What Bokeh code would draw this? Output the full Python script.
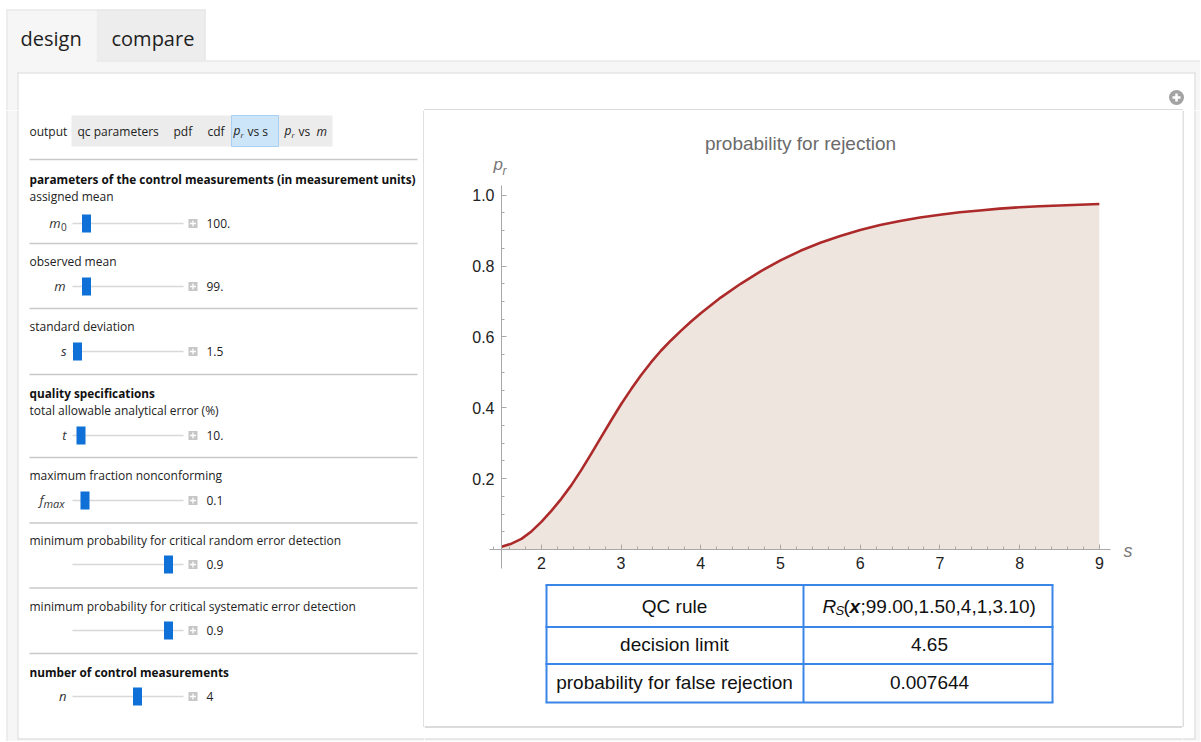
from bokeh.plotting import figure
from bokeh.models import Range1d, FixedTicker, Label, NumeralTickFormatter
from bokeh.layouts import row, column
from bokeh.embed import file_html
from bokeh.resources import INLINE
from bokeh.core.properties import value

# ---------------- data ----------------
s_values = [1.5, 1.625, 1.75, 1.875, 2.0, 2.125, 2.25, 2.375, 2.5, 2.625, 2.75, 2.875,
            3.0, 3.125, 3.25, 3.375, 3.5, 3.625, 3.75, 3.875, 4.0, 4.25, 4.5, 4.75,
            5.0, 5.25, 5.5, 5.75, 6.0, 6.25, 6.5, 6.75, 7.0, 7.25, 7.5, 7.75, 8.0, 8.25,
            8.5, 8.75, 9.0]
pr_values = [0.0076, 0.0165, 0.030, 0.051, 0.078, 0.109, 0.143, 0.181, 0.224, 0.270,
             0.317, 0.364, 0.410, 0.452, 0.492, 0.528, 0.561, 0.590, 0.617, 0.643, 0.667,
             0.711, 0.750, 0.785, 0.816, 0.843, 0.866, 0.885, 0.902, 0.916, 0.927, 0.937,
             0.945, 0.952, 0.957, 0.962, 0.966, 0.969, 0.971, 0.973, 0.975]
x_ticks = [2, 3, 4, 5, 6, 7, 8, 9]
y_ticks = [0.2, 0.4, 0.6, 0.8, 1.0]
chart_title = "probability for rejection"

table_labels = ["QC rule", "decision limit", "probability for false rejection"]
table_values = ["", "4.65", "0.007644"]
rule_args = ";99.00,1.50,4,1,3.10)"

tab_names = ["design", "compare"]
output_options = ["qc parameters", "pdf", "cdf"]
section_titles = ["parameters of the control measurements (in measurement units)",
                  "quality specifications", "number of control measurements"]
control_captions = ["assigned mean", "observed mean", "standard deviation",
                    "total allowable analytical error (%)", "maximum fraction nonconforming",
                    "minimum probability for critical random  error detection",
                    "minimum probability for critical systematic error detection"]
control_values = ["100.", "99.", "1.5", "10.", "0.1", "0.9", "0.9", "4"]

FONT_UI = "Open Sans"
FONT_CH = "Liberation Sans"


def no_align(f):
    if "frame_align" in f.properties():
        f.frame_align = False
    return f


def pixfig(x0, x1, y0, y1):
    f = figure(width=x1 - x0, height=y1 - y0, x_range=Range1d(x0, x1), y_range=Range1d(y1, y0),
               output_backend="svg", toolbar_location=None, min_border=0,
               x_axis_type=None, y_axis_type=None, background_fill_color="white",
               border_fill_color="white", outline_line_color=None)
    f.grid.visible = False
    return no_align(f)


def txt(f, x, y, t, size="12px", style="normal", color="#222222", align="left", font=FONT_UI):
    f.text(x=[x], y=[y], text=[t], text_font=value(font), text_font_size=size,
           text_font_style=style, text_color=color, text_align=align, text_baseline="middle")


def hline(f, x0, x1, y, color, w=1.0):
    f.segment(x0=[x0], y0=[y], x1=[x1], y1=[y], line_color=color, line_width=w)


def vline(f, x, y0, y1, color, w=1.0):
    f.segment(x0=[x], y0=[y0], x1=[x], y1=[y1], line_color=color, line_width=w)


PANEL_BG = "#f6f6f6"
OUTER_BORDER = "#e2e2e2"
PANEL_BORDER = "#d9d9d9"
BOX_BORDER = "#cfcfcf"

W, H = 1200, 741

# ---------------- top strip ----------------
top = pixfig(0, W, 0, 110)
top.quad(left=[6], right=[W], top=[60], bottom=[110], fill_color=PANEL_BG, line_color=None)
top.quad(left=[6], right=[96], top=[9], bottom=[61], fill_color=PANEL_BG, line_color=None)
top.quad(left=[96], right=[205], top=[9], bottom=[60], fill_color="#ededed", line_color=None)
hline(top, 6, 205, 9.5, OUTER_BORDER)
vline(top, 6.5, 9, 110, OUTER_BORDER)
vline(top, 204.5, 9, 60, OUTER_BORDER)
hline(top, 96, W, 60.5, OUTER_BORDER)
top.quad(left=[17], right=[1194], top=[72], bottom=[110], fill_color="white", line_color=None)
hline(top, 17, 1194.5, 72.5, PANEL_BORDER)
vline(top, 17.5, 72, 110, PANEL_BORDER)
vline(top, 1194.5, 72, 110, PANEL_BORDER)
hline(top, 423.5, 1182.5, 109.5, BOX_BORDER, 1.3)
txt(top, 20, 38, tab_names[0], size="20px", color="#1e1e1e")
txt(top, 111, 38, tab_names[1], size="20px", color="#1e1e1e")
top.scatter(x=[1176], y=[97], size=15, marker="circle", fill_color="#a3a3a3", line_color=None)
top.segment(x0=[1172, 1176], y0=[97, 93], x1=[1180, 1176], y1=[97, 101],
            line_color="white", line_width=2.5)

# ---------------- left control panel ----------------
left = pixfig(0, 424, 110, H)
left.quad(left=[6], right=[17], top=[110], bottom=[H], fill_color=PANEL_BG, line_color=None)
left.quad(left=[6], right=[424], top=[738], bottom=[H], fill_color=PANEL_BG, line_color=None)
vline(left, 6.5, 110, H, OUTER_BORDER)
vline(left, 17.5, 110, 738.5, PANEL_BORDER)
hline(left, 17, 424, 738.5, PANEL_BORDER)
vline(left, 423.5, 110, 726.5, BOX_BORDER, 1.3)

txt(left, 29, 131, "output")
left.quad(left=[71], right=[332], top=[115], bottom=[146], fill_color="#ececec", line_color=None)
left.quad(left=[231], right=[278], top=[115], bottom=[146], fill_color="#cde5f8",
          line_color="#a9d0f2", line_width=1)
for xo, t in zip([77, 173, 207], output_options):
    txt(left, xo, 131, t)
txt(left, 233, 130, "p", style="italic")
txt(left, 240, 134, "r", size="8px", style="italic")
txt(left, 247, 131, "vs s")
txt(left, 284, 130, "p", style="italic")
txt(left, 291, 134, "r", size="8px", style="italic")
txt(left, 298, 131, "vs")
txt(left, 316, 131, "m", style="italic")

for ys in [159, 243, 308, 374, 457, 522.5, 587.5, 653]:
    hline(left, 29, 417, ys, "#c9c9c9", 1.5)

txt(left, 29, 178, section_titles[0], size="11.8px", style="bold", color="#111111")
txt(left, 29, 392, section_titles[1], size="11.8px", style="bold", color="#111111")
txt(left, 29, 671, section_titles[2], size="11.8px", style="bold", color="#111111")
for yc, t in zip([196, 261, 326, 410, 475, 540, 606], control_captions):
    txt(left, 29, yc, t)

row_y = [223, 286, 351, 435, 500, 564, 630, 696]
thumb_x = [86, 86, 77, 80.5, 84.5, 168, 168, 137]
for yr, tx, v in zip(row_y, thumb_x, control_values):
    hline(left, 72, 183, yr, "#d8d8d8", 1.5)
    left.quad(left=[tx - 4.5], right=[tx + 4.5], top=[yr - 9], bottom=[yr + 9],
              fill_color="#0f70d8", line_color=None)
    left.quad(left=[188], right=[197], top=[yr - 4.5], bottom=[yr + 4.5],
              fill_color="#c6c6c6", line_color=None)
    left.segment(x0=[189.5, 192.5], y0=[yr, yr - 3], x1=[195.5, 192.5], y1=[yr, yr + 3],
                 line_color="white", line_width=1.3)
    txt(left, 206, yr, v)

LAB = "#333333"
txt(left, 60, 222, "m", size="13px", style="italic", color=LAB, align="right")
txt(left, 60.5, 226, "0", size="10px", color=LAB)
txt(left, 65, 285, "m", size="13px", style="italic", color=LAB, align="right")
txt(left, 66, 350, "s", size="13px", style="italic", color=LAB, align="right")
txt(left, 66, 434, "t", size="13px", style="italic", color=LAB, align="right")
txt(left, 43, 499, "f", size="13px", style="italic", color=LAB, align="right")
txt(left, 43, 503, "max", size="11px", style="italic", color=LAB)
txt(left, 66, 695, "n", size="13px", style="italic", color=LAB, align="right")

# ---------------- chart box (plot + table) ----------------
BX0, BX1, BY0, BY1 = 424, 1182, 110, H     # figure area in page pixels
AX_X, AX_Y = 501, 549                       # page pixel of (s=1.5, p=0)
PX_PER_S = 79.71
PX_PER_P = 354.3


def dx(px):
    return 1.5 + (px - AX_X) / PX_PER_S


def dy(py):
    return (AX_Y - py) / PX_PER_P


p = figure(width=BX1 - BX0, height=BY1 - BY0,
           x_range=Range1d(dx(BX0), dx(BX1)), y_range=Range1d(dy(BY1), dy(BY0)),
           output_backend="svg", toolbar_location=None, min_border=0,
           background_fill_color="white", border_fill_color="white", outline_line_color=None)
no_align(p)
p.grid.visible = False
p.varea(x=s_values, y1=[0] * len(s_values), y2=pr_values, fill_color="#eee5df")
p.line(x=s_values, y=pr_values, line_color="#ad2a2a", line_width=2.6, line_join="round")

x_minor = [round(1.4 + 0.2 * i, 2) for i in range(40) if round(1.4 + 0.2 * i, 2) <= 9.1]
y_minor = [round(0.05 * i, 2) for i in range(1, 21)]
p.xaxis.ticker = FixedTicker(ticks=x_ticks, minor_ticks=x_minor)
p.yaxis.ticker = FixedTicker(ticks=y_ticks, minor_ticks=y_minor)
p.xaxis.formatter = NumeralTickFormatter(format="0")
p.yaxis.formatter = NumeralTickFormatter(format="0.0")
p.xaxis.fixed_location = 0.0
p.yaxis.fixed_location = 1.5
p.xaxis.bounds = (dx(489), 9.14)
p.yaxis.bounds = (dy(568), 1.028)
for ax in (p.xaxis, p.yaxis):
    ax.axis_line_color = "#a8a8a8"
    ax.major_tick_line_color = "#a8a8a8"
    ax.minor_tick_line_color = "#a8a8a8"
    ax.major_tick_in = 5
    ax.major_tick_out = 0
    ax.minor_tick_in = 3
    ax.minor_tick_out = 0
    ax.major_label_text_font = FONT_CH
    ax.major_label_text_font_size = "16px"
    ax.major_label_text_color = "#222222"
p.xaxis.major_label_standoff = 7
p.yaxis.major_label_standoff = 7

p.add_layout(Label(x=dx(800), y=dy(143), text=chart_title, text_align="center",
                   text_baseline="middle", text_font=FONT_CH, text_font_size="19px",
                   text_color="#6b6b6b"))
p.add_layout(Label(x=dx(493), y=dy(164), text="p", text_align="left", text_baseline="middle",
                   text_font=FONT_CH, text_font_size="17px", text_font_style="italic",
                   text_color="#777777"))
p.add_layout(Label(x=dx(502), y=dy(170), text="r", text_align="left", text_baseline="middle",
                   text_font=FONT_CH, text_font_size="12px", text_font_style="italic",
                   text_color="#777777"))
p.add_layout(Label(x=dx(1123), y=dy(550), text="s", text_align="left", text_baseline="middle",
                   text_font=FONT_CH, text_font_size="18px", text_font_style="italic",
                   text_color="#777777"))


def ptxt(x, y, t, size="19px", style="normal", align="left"):
    p.text(x=[dx(x)], y=[dy(y)], text=[t], text_font=value(FONT_CH), text_font_size=size,
           text_font_style=style, text_color="#111111", text_align=align, text_baseline="middle")


def pseg(x0, y0, x1, y1, color, w):
    p.segment(x0=[dx(x0)], y0=[dy(y0)], x1=[dx(x1)], y1=[dy(y1)], line_color=color, line_width=w)


# results table
BLUE = "#3a86e8"
for yl in [584.5, 626.5, 663.5, 702]:
    pseg(545, yl, 1053, yl, BLUE, 2)
for xl in [546, 803, 1052]:
    pseg(xl, 584.5, xl, 702, BLUE, 2)
row_c = [606, 644, 682]
for yc, lab, val in zip(row_c, table_labels, table_values):
    ptxt(674, yc, lab, align="center")
    if val:
        ptxt(929, yc, val, align="center")
ptxt(822, 606, "R", style="italic")
ptxt(835, 610, "S", size="13px", style="italic")
ptxt(843, 606, "(")
ptxt(849, 606, "x", style="bold italic")
ptxt(860, 606, rule_args)

# box bottom border and panel bottom
pseg(BX0, 726.5, BX1, 726.5, BOX_BORDER, 1.3)
p.quad(left=[dx(BX0)], right=[dx(BX1)], top=[dy(738)], bottom=[dy(BY1)],
       fill_color=PANEL_BG, line_color=None)
pseg(BX0, 738.5, BX1, 738.5, PANEL_BORDER, 1)

# ---------------- right strip ----------------
right = pixfig(1182, W, 110, H)
right.quad(left=[1194], right=[W], top=[110], bottom=[H], fill_color=PANEL_BG, line_color=None)
right.quad(left=[1182], right=[W], top=[738], bottom=[H], fill_color=PANEL_BG, line_color=None)
vline(right, 1182.5, 110, 726.5, BOX_BORDER, 1.3)
vline(right, 1194.5, 110, 738.5, PANEL_BORDER)
hline(right, 1182, 1194.5, 738.5, PANEL_BORDER)

layout = column(top, row(left, p, right))
open("out.html", "w").write(file_html(layout, INLINE))
